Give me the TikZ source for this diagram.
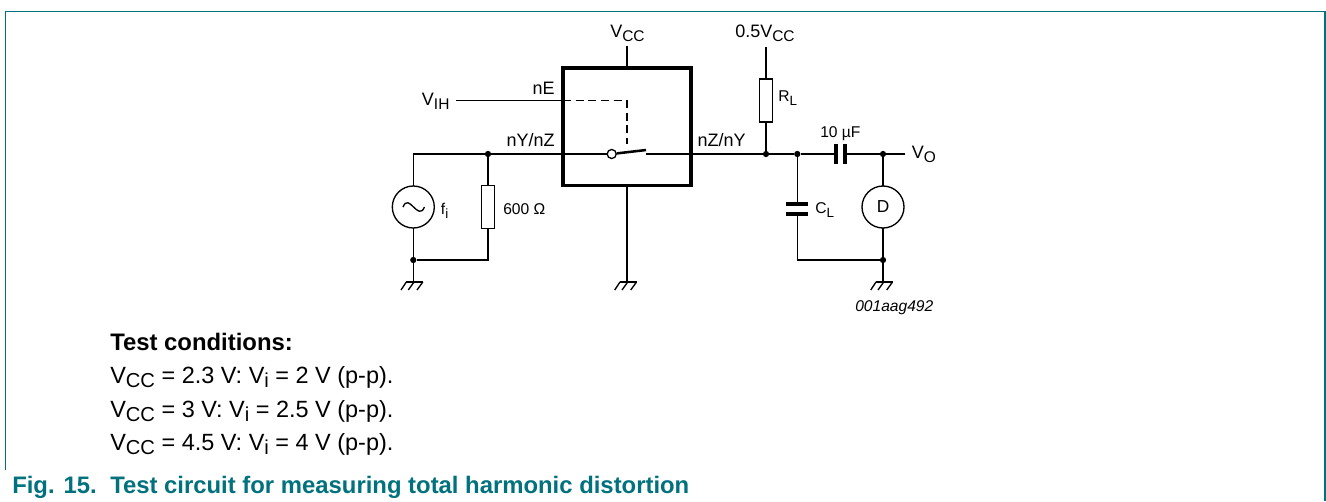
\documentclass[tikz,border=0pt]{standalone}
\usepackage{fontspec}
\setmainfont{Liberation Sans}
\usepackage{tikz}

\definecolor{figteal}{RGB}{0,113,125}
\newcommand{\lowsub}[1]{\raisebox{-3pt}{\scalebox{.86}{#1}}}

\tikzset{
	wire/.style={line width=1pt},
	lbl/.style={inner sep=0pt, anchor=base west, font=\fontsize{13.5}{16}\selectfont},
	lblr/.style={lbl, anchor=base east},
	small/.style={lbl, font=\fontsize{11.7}{14}\selectfont},
	cond/.style={lbl, font=\fontsize{17.6}{20}\selectfont},
	condb/.style={lbl, font=\fontsize{17.9}{20}\selectfont\bfseries},
	dot/.style={circle, fill=black, inner sep=0pt, minimum size=4.7pt},
	res/.style={rectangle, draw, line width=1pt, inner sep=0pt, outer sep=0pt, minimum width=10.1pt, minimum height=32.2pt},
	src/.style={circle, draw, line width=1pt, inner sep=0pt, outer sep=0pt, minimum size=31.5pt},
	plate/.style={rectangle, fill=black, inner sep=0pt, outer sep=0pt},
	gnd/.pic={
		\draw[wire] (-7,0) -- (9.5,0);
		\draw[wire] (-7,0) -- (-12.3,8);
		\draw[wire] (0.7,0) -- (-5,8);
		\draw[wire] (9.5,0) -- (3.7,8);
	}
}

\begin{document}
\begin{tikzpicture}[x=0.75pt, y=-0.75pt]

	\useasboundingbox (0,0) rectangle (1326,501);

	% Frame
	\draw[figteal, line width=0.9pt] (5.5,470) -- (5.5,11.5) -- (1325,11.5) -- (1325,501);

	% Switch box
	\node[rectangle, draw, line width=2.3pt, inner sep=0pt, outer sep=0pt, minimum width=96pt, minimum height=87.8pt]
	(box) at (627,126.5) {};

	% Node
	\node[src] (fsrc) at (413.3,207) {};
	\node[src] (det) at (883,207) {};
	\node[inner sep=0pt, font=\fontsize{13}{15}\selectfont] (detlbl) at (883,207) {D};

	\node[res] (r600) at (488,207) {};
	\node[res] (rl) at (766,100.5) {};

	\node[dot] (jin) at (488,154) {};
	\node[dot] (jrl) at (766,154) {};
	\node[dot] (jcl) at (797.3,154) {};
	\node[dot] (jout) at (883,154) {};
	\node[dot] (jgl) at (413.3,260) {};
	\node[dot] (jgr) at (883,260) {};

	\node[circle, draw, fill=white, line width=1pt, inner sep=0pt, minimum size=6.8pt] (swin) at (611.7,154) {};

	% Capacitors
	\node[plate, minimum width=2.8pt, minimum height=15pt] (c1a) at (836,154) {};
	\node[plate, minimum width=2.8pt, minimum height=15pt] (c1b) at (845,154) {};
	\node[plate, minimum width=16.5pt, minimum height=2.8pt] (c2a) at (797.3,204.3) {};
	\node[plate, minimum width=16.5pt, minimum height=2.8pt] (c2b) at (797.3,214) {};

	% Free ends
	\coordinate (vccend) at (627,46);
	\coordinate (halfend) at (766,46.5);
	\coordinate (vihend) at (456,100.7);
	\coordinate (ne) at (563,100.7);
	\coordinate (nebend) at (627,100.7);
	\coordinate (swtop) at (627,144);
	\coordinate (swtip) at (646,150);
	\coordinate (swout) at (646,154);
	\coordinate (voend) at (905,154);
	\coordinate (gndl) at (413.3,282);
	\coordinate (gndm) at (627,282);
	\coordinate (gndr) at (883,282);

	% EDGE
	\draw[wire] (box.north) -- (vccend);
	\draw[wire] (box.south) -- (gndm);
	\draw[wire] (vihend) -- (ne);
	\draw[wire, dash pattern=on 6pt off 3.5pt] (ne) -- (nebend) -- (swtop);

	\draw[wire] (fsrc.north) |- (jin);
	\draw[wire] (jin) -- (swin);
	\draw[line width=1.9pt] (swin) -- (swtip);
	\draw[wire] (swout) -- (jrl);
	\draw[wire] (jrl) -- (jcl);
	\draw[wire] (jcl) -- (c1a);
	\draw[wire] (c1b) -- (jout);
	\draw[wire] (jout) -- (voend);

	\draw[wire] (jin) -- (r600);
	\draw[wire] (r600.south) |- (jgl);
	\draw[wire] (fsrc) -- (jgl);
	\draw[wire] (jgl) -- (gndl);

	\draw[wire] (rl) -- (halfend);
	\draw[wire] (rl) -- (jrl);

	\draw[wire] (jcl) -- (c2a);
	\draw[wire] (c2b.south) |- (jgr);
	\draw[wire] (jout) -- (det);
	\draw[wire] (det) -- (jgr);
	\draw[wire] (jgr) -- (gndr);

	% Sine
	\draw[wire] (403,207) .. controls (409,192) and (418,222) .. (424.5,207);

	% Ground
	\pic at (gndl) {gnd};
	\pic at (gndm) {gnd};
	\pic at (gndr) {gnd};

	% Labels
	\node[lbl] (vcc) at (610,37) {V\lowsub{CC}};
	\node[lbl] (vih) at (421.7,105) {V\lowsub{IH}};
	\node[lblr] (nelbl) at (555,94) {nE};
	\node[lblr] (nyz) at (555,146.7) {nY/nZ};
	\node[lbl] (nzy) at (697.3,146) {nZ/nY};
	\node[lbl] (half) at (735,37) {0.5V\lowsub{CC}};
	\node[lbl] (vo) at (911.7,158) {V\lowsub{O}};

	\node[small] (filbl) at (440.7,214) {f\lowsub{i}};
	\node[small] (ohm) at (503,214) {600 Ω};
	\node[small] (rllbl) at (778,101.7) {R\lowsub{L}};
	\node[small] (cap) at (820,137) {10 µF};
	\node[small] (cllbl) at (815,213) {C\lowsub{L}};
	\node[small, font=\fontsize{11.7}{14}\selectfont\itshape] (code) at (855,311.7) {001aag492};

	% Test conditions
	\node[condb] (tc) at (110,350) {Test conditions:};
	\node[cond] (tc1) at (110,383) {V\lowsub{CC} = 2.3 V: V\lowsub{i} = 2 V (p-p).};
	\node[cond] (tc2) at (110,417) {V\lowsub{CC} = 3 V: V\lowsub{i} = 2.5 V (p-p).};
	\node[cond] (tc3) at (110,450) {V\lowsub{CC} = 4.5 V: V\lowsub{i} = 4 V (p-p).};

	% Caption
	\node[condb, text=figteal] (fig) at (12,493) {Fig. 15.};
	\node[condb, text=figteal] (figtxt) at (110,493) {Test circuit for measuring total harmonic distortion};

\end{tikzpicture}
\end{document}
